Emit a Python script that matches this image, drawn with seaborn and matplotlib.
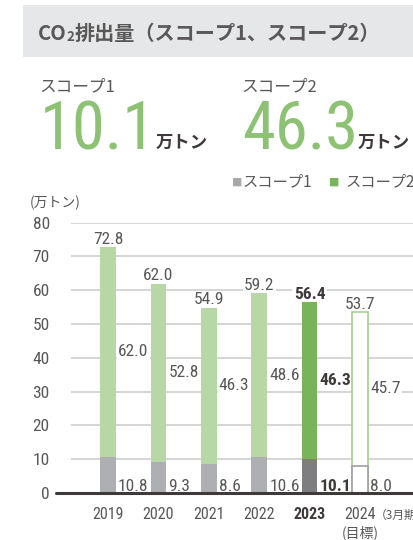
import matplotlib
matplotlib.use('Agg')
import matplotlib.pyplot as plt
from matplotlib.patches import Rectangle
from matplotlib.text import Annotation
import pandas as pd
import seaborn as sns

# data
years = ['2019', '2020', '2021', '2022', '2023', '2024']
scope1 = [10.8, 9.3, 8.6, 10.6, 10.1, 8.0]
scope2 = [62.0, 52.8, 46.3, 48.6, 46.3, 45.7]
totals = [72.8, 62.0, 54.9, 59.2, 56.4, 53.7]
yticks = [0, 10, 20, 30, 40, 50, 60, 70, 80]
latest_scope1 = '10.1'
latest_scope2 = '46.3'

df = pd.DataFrame({'year': years, 'scope1': scope1, 'scope2': scope2, 'total': totals})

JP = ['Noto Sans CJK JP', 'DejaVu Sans']
NUM = ['Roboto Condensed', 'Noto Sans CJK JP', 'DejaVu Sans']
TXT = '#595757'
DARK = '#3e3a39'
GREEN_BIG = '#8dc274'
LIGHT_GREEN = '#b7d7a4'
DARK_GREEN = '#79b45b'
GRAY = '#aeafb2'
DARK_GRAY = '#7e7e81'

sns.set_style('white')
plt.rcParams['font.family'] = JP

W, H = 414, 540
fig = plt.figure(figsize=(W / 100, H / 100), dpi=100)


def px(x, y):
    return x / W, 1 - y / H


# header band
fig.patches.append(Rectangle(px(23, 57), (W - 23) / W, 52 / H, transform=fig.transFigure,
                             facecolor='#e6e7e8', edgecolor='none', zorder=0))

# chart axes
ax = fig.add_axes([71 / W, 1 - 493 / H, (W - 71) / W, (493 - 222.7) / H])

total_pal = dict(zip(years, [LIGHT_GREEN] * 4 + [DARK_GREEN, 'white']))
s1_pal = dict(zip(years, [GRAY] * 4 + [DARK_GRAY, 'white']))
sns.barplot(data=df, x='year', y='total', hue='year', palette=total_pal, saturation=1,
            width=0.31, legend=False, errorbar=None, linewidth=0, ax=ax)
sns.barplot(data=df, x='year', y='scope1', hue='year', palette=s1_pal, saturation=1,
            width=0.31, legend=False, errorbar=None, linewidth=0, ax=ax)

# bars above the white label boxes; 2024 target bars are outlined only
for p in ax.patches:
    p.set_zorder(4)
    if abs(p.get_x() + p.get_width() / 2 - 5) < 0.1:
        p.set_facecolor('white')
        p.set_linewidth(1.2)
        if p.get_height() > 20:
            p.set_edgecolor('#a3cf8c')
        else:
            p.set_edgecolor('#a0a0a2')
            p.set_zorder(4.5)

ax.set_ylim(0, 80)
ax.set_xlim(-0.734, 6.07)
ax.set_yticks(yticks)
ax.set_xticks([])
ax.set_xlabel('')
ax.set_ylabel('')
for s in ax.spines.values():
    s.set_visible(False)
ax.spines['left'].set_position(('outward', 3))
ax.yaxis.grid(True, color='#c9caca', lw=1.1)
ax.set_axisbelow(True)
ax.tick_params(axis='y', direction='out', length=8, width=1.1, color='#c9caca',
               pad=4.3, labelsize=12.5, labelcolor=TXT)
for t in ax.get_yticklabels():
    t.set_family(NUM)
ax.axhline(0, xmin=(56 - 71) / (W - 71), xmax=1, color=DARK, lw=2.2, clip_on=False, zorder=5)

box = dict(boxstyle='square,pad=0.08', facecolor='white', edgecolor='none')
for i in range(len(years)):
    bold = i == 4
    kw = dict(fontsize=12.5, family=NUM, color=DARK if bold else TXT,
              weight='bold' if bold else 'normal', clip_on=False)
    ax.text(i, totals[i] + 0.9, f'{totals[i]:.1f}', ha='center', va='baseline', bbox=box, **kw)
    ax.text(i + 0.2, scope1[i] + scope2[i] / 2, f'{scope2[i]:.1f}', ha='left', va='center',
            bbox=box, **kw)
    ax.text(i + 0.2, 0.6, f'{scope1[i]:.1f}', ha='left', va='baseline', **kw)
    ax.text(i, -7.7, years[i], ha='center', va='baseline', fontsize=11.5, family=NUM,
            color=DARK if bold else TXT, weight='bold' if bold else 'normal', clip_on=False)
ax.text(5.3, -7.7, '（3月期）', ha='left', va='baseline', fontsize=8.5, color=TXT, clip_on=False)
ax.text(5, -13.0, '(目標)', ha='center', va='baseline', fontsize=10, color=TXT, clip_on=False)

# title: CO + small 2 + rest, chained on the figure
t1 = fig.text(*px(38, 40), 'CO', fontsize=14.5, weight='bold', color=TXT, va='baseline')
t2 = fig.add_artist(Annotation('2', xy=(1, 0), xycoords=t1, fontsize=9.5, weight='bold',
                               color=TXT, va='bottom', ha='left'))
fig.add_artist(Annotation('排出量（スコープ1、スコープ2）', xy=(1, 0), xycoords=(t2, t1),
                          fontsize=14.5, weight='bold', color=TXT, va='bottom', ha='left'))

# headline figures
for x0, name, val, ux in [(39, 'スコープ1', latest_scope1, 156),
                          (241, 'スコープ2', latest_scope2, 358)]:
    fig.text(*px(x0, 91), name, fontsize=12, color=TXT, va='baseline')
    fig.text(*px(x0 + 1, 150), val, fontsize=48, color=GREEN_BIG, family=NUM, va='baseline')
    fig.text(*px(ux, 148), '万トン', fontsize=12.5, weight='bold', color=DARK, va='baseline')

# legend
fig.text(*px(232, 186), '■', fontsize=7.5, color='#a7a8aa', va='baseline')
fig.text(*px(242, 186), 'スコープ1', fontsize=11, color=TXT, va='baseline')
fig.text(*px(329, 186), '■', fontsize=7.5, color=DARK_GREEN, va='baseline')
fig.text(*px(345, 186), 'スコープ2', fontsize=11, color=TXT, va='baseline')

fig.text(*px(30, 207), '(万トン)', fontsize=10, color=TXT, va='baseline')

fig.savefig('out.png', dpi=100)
